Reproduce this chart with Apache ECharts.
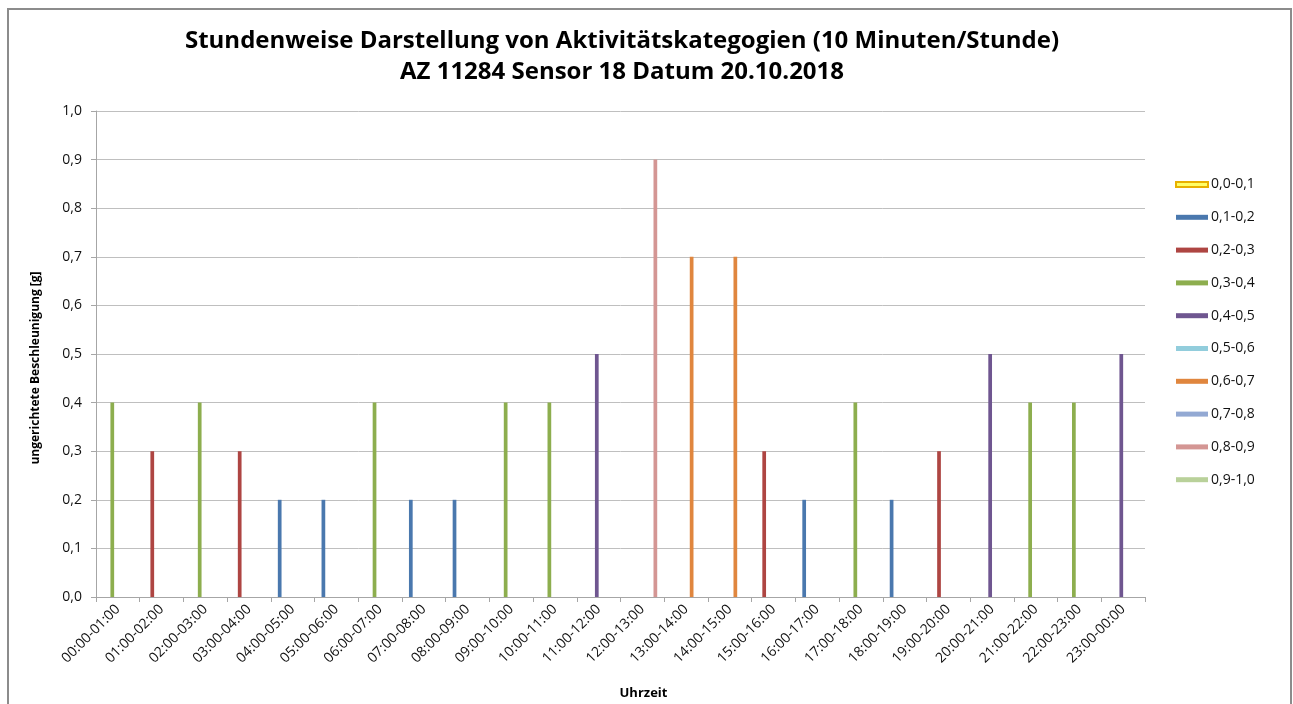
<!DOCTYPE html>
<html>
<head>
<meta charset="utf-8">
<title>Aktivitätskategorien</title>
<script src="https://cdn.jsdelivr.net/npm/echarts@6/dist/echarts.min.js"></script>
<style>
  html, body { margin: 0; padding: 0; background: #fff; }
  #chart { width: 1293px; height: 704px; }
</style>
</head>
<body>
<div id="chart"></div>
<script>
// Stundenintervalle (x-Achse)
const stunden = [
  '00:00-01:00', '01:00-02:00', '02:00-03:00', '03:00-04:00', '04:00-05:00', '05:00-06:00',
  '06:00-07:00', '07:00-08:00', '08:00-09:00', '09:00-10:00', '10:00-11:00', '11:00-12:00',
  '12:00-13:00', '13:00-14:00', '14:00-15:00', '15:00-16:00', '16:00-17:00', '17:00-18:00',
  '18:00-19:00', '19:00-20:00', '20:00-21:00', '21:00-22:00', '22:00-23:00', '23:00-00:00'
]

// Aktivitätskategorien (Legende) und Farben
const kategorien = ['0,0-0,1', '0,1-0,2', '0,2-0,3', '0,3-0,4', '0,4-0,5',
  '0,5-0,6', '0,6-0,7', '0,7-0,8', '0,8-0,9', '0,9-1,0']
const farben = ['#FFFF66', '#4A78AE', '#AE4542', '#8DAE4E', '#6F5690',
  '#92CDDC', '#E0863E', '#93A9D3', '#D49694', '#B9D19A']

// Messwert je Stunde und zugehörige Kategorie (Index in kategorien)
const werte = [0.4, 0.3, 0.4, 0.3, 0.2, 0.2, 0.4, 0.2, 0.2, 0.4, 0.4, 0.5,
  0.9, 0.7, 0.7, 0.3, 0.2, 0.4, 0.2, 0.3, 0.5, 0.4, 0.4, 0.5]
const klasse = [3, 2, 3, 2, 1, 1, 3, 1, 1, 3, 3, 4,
  8, 6, 6, 2, 1, 3, 1, 2, 4, 3, 3, 4]

const yTicks = [0, 0.1, 0.2, 0.3, 0.4, 0.5, 0.6, 0.7, 0.8, 0.9, 1.0]

const schrift = '"Open Sans", sans-serif'

const chart = echarts.init(document.getElementById('chart'))

const series = kategorien.map((name, k) => ({
  name,
  type: 'bar',
  barGap: '0%',
  barCategoryGap: '15%',
  itemStyle: {
    color: farben[k],
    borderColor: k === 0 ? '#E8B000' : undefined,
    borderWidth: k === 0 ? 1 : 0
  },
  data: werte.map((v, i) => (klasse[i] === k ? v : '-'))
}))

chart.setOption({
  animation: false,
  textStyle: { fontFamily: schrift },
  title: {
    text: 'Stundenweise Darstellung von Aktivitätskategogien (10 Minuten/Stunde)\nAZ 11284 Sensor 18 Datum 20.10.2018',
    left: 617,
    top: 21,
    textAlign: 'center',
    textStyle: {
      fontFamily: schrift,
      fontSize: 24,
      fontWeight: 'bold',
      color: '#000',
      lineHeight: 31
    }
  },
  legend: {
    orient: 'vertical',
    left: 1175,
    top: 177,
    padding: 0,
    itemWidth: 32,
    itemHeight: 5,
    itemGap: 17.8,
    icon: 'rect',
    textStyle: { fontSize: 14, color: '#111', lineHeight: 15, padding: [0, 0, 0, -2] },
    data: kategorien
  },
  grid: { left: 96, right: 148, top: 111, bottom: 107, outerBoundsMode: 'none' },
  xAxis: {
    type: 'category',
    data: stunden,
    name: 'Uhrzeit',
    nameLocation: 'middle',
    nameGap: 90,
    nameTextStyle: { fontWeight: 'bold', fontSize: 13, color: '#000', padding: [0, 0, 0, 46] },
    axisLine: { lineStyle: { color: '#a6a6a6' } },
    axisTick: { show: true, length: 5, lineStyle: { color: '#a6a6a6' } },
    axisLabel: { rotate: 45, fontSize: 14, color: '#111', margin: 10, interval: 0 }
  },
  yAxis: {
    type: 'value',
    min: 0,
    max: 1,
    interval: 0.1,
    name: 'ungerichtete Beschleunigung [g]',
    nameLocation: 'middle',
    nameGap: 54,
    nameTextStyle: { fontWeight: 'bold', fontSize: 12, color: '#000', padding: [0, 28, 0, 0] },
    axisLine: { show: true, lineStyle: { color: '#a6a6a6' } },
    axisTick: { show: true, length: 5, lineStyle: { color: '#a6a6a6' } },
    axisLabel: {
      fontSize: 14,
      color: '#111',
      margin: 14,
      formatter: v => {
        const t = yTicks.find(x => Math.abs(x - v) < 1e-9)
        return (t === undefined ? v : t).toFixed(1).replace('.', ',')
      }
    },
    splitLine: { lineStyle: { color: '#bfbfbf' } }
  },
  graphic: [{
    type: 'rect',
    shape: { x: 8, y: 9, width: 1283, height: 720 },
    style: { fill: 'none', stroke: '#8c8c8c', lineWidth: 2 },
    silent: true
  }],
  series
})
</script>
</body>
</html>
